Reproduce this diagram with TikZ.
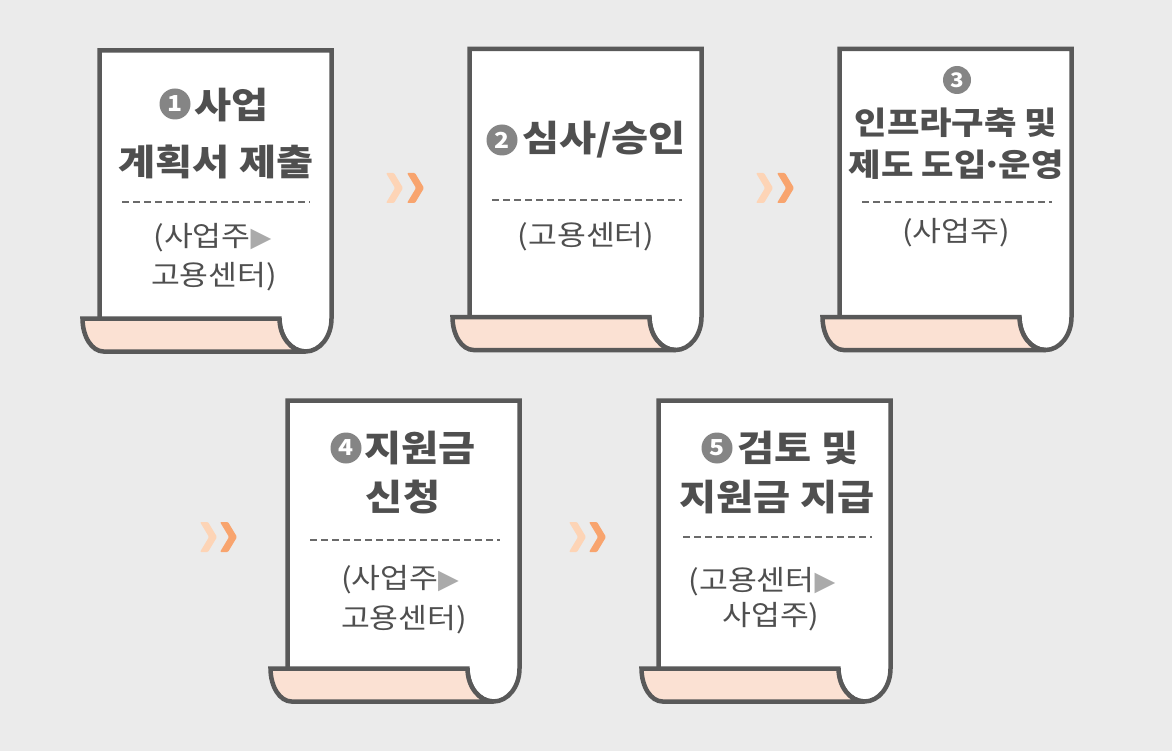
\documentclass[tikz,border=0pt]{standalone}
\usepackage{fontspec}
\setmainfont{Noto Sans CJK KR}[FakeStretch=1.12]
\newfontfamily\dejavu{DejaVu Sans}
\definecolor{bg}{HTML}{EBEBEB}
\definecolor{edge}{HTML}{595959}
\definecolor{flapc}{HTML}{FBE1D3}
\definecolor{txt}{HTML}{4F4F4F}
\definecolor{numgray}{HTML}{858585}
\definecolor{trigray}{HTML}{AAAAAA}
\definecolor{chevlight}{HTML}{FDD4B6}
\definecolor{chevdark}{HTML}{F8A46E}
\newcommand\scrollat[3]{%
  \begin{scope}[shift={(#2,#3)}]
    \coordinate (#1) at (116,150);
    \filldraw[pageedge,fill=white] (0,268) -- (0,0) -- (232,0) -- (232,268)
      arc[start angle=0,end angle=180,x radius=26,y radius=33];
    \filldraw[pageedge,fill=flapc] (180,268) -- (-17,268)
      arc[start angle=180,end angle=90,x radius=21,y radius=33] -- (206,301)
      arc[start angle=90,end angle=180,x radius=26,y radius=33] -- cycle;
  \end{scope}}
\newcommand\chevat[3]{%
  \fill[#1,rounded corners=1pt] (#2,#3) ++(0,-15) -- ++(8,0) -- ++(9,15) -- ++(-9,15) -- ++(-8,0) -- ++(9,-15) -- cycle;}
\newcommand\tri{{\dejavu\color{trigray}\fontsize{27}{27}\selectfont ▶}}
\begin{document}
\begin{tikzpicture}[x=1pt,y=-1pt,
  pageedge/.style={draw=edge,line width=4.5pt},
  title/.style={font=\fontsize{36}{36}\selectfont\bfseries,text=txt,inner sep=0pt},
  titlesm/.style={font=\fontsize{31.5}{31.5}\selectfont\bfseries,text=txt,inner sep=0pt},
  sub/.style={font=\fontsize{28}{28}\selectfont,text=txt,inner sep=0pt},
  numc/.style={circle,fill=numgray,text=white,inner sep=0pt,minimum size=31pt,
    font=\fontsize{22}{22}\selectfont\bfseries},
  sep/.style={draw=edge!90,line width=2pt,dash pattern=on 7pt off 4pt}]
\fill[bg] (0,0) rectangle (1172,751);
\useasboundingbox (0,0) rectangle (1172,751);
% scrolls
\scrollat{s1}{99.5}{50.5}
\scrollat{s2}{469.5}{49}
\scrollat{s3}{839.5}{49}
\scrollat{s4}{287.5}{400.5}
\scrollat{s5}{658.5}{400.5}
% chevrons
\chevat{chevlight}{386}{188}\chevat{chevdark}{407}{188}
\chevat{chevlight}{756}{188}\chevat{chevdark}{777}{188}
\chevat{chevlight}{200}{537}\chevat{chevdark}{220}{537}
\chevat{chevlight}{569}{537}\chevat{chevdark}{589}{537}
% box 1
\node[numc] (n1) at (175,104) {1};
\node[title] (t1a) at (231.5,105) {사업};
\node[title] (t1b) at (216,162) {계획서 제출};
\coordinate (d1a) at (122,202); \coordinate (d1b) at (310,202);
\draw[sep] (d1a) -- (d1b);
\node[sub] (s1a) at (212.5,238) {(사업주\tri};
\node[sub] (s1b) at (214,277) {고용센터)};
% box 2
\node[numc] (n2) at (502,140) {2};
\node[title] (t2) at (604,140) {심사/승인};
\coordinate (d2a) at (492,200); \coordinate (d2b) at (682,200);
\draw[sep] (d2a) -- (d2b);
\node[sub] (s2) at (586,237) {(고용센터)};
% box 3
\node[numc,minimum size=28pt,font=\fontsize{20}{20}\selectfont\bfseries] (n3) at (957,80) {3};
\node[titlesm] (t3a) at (956,123) {인프라구축 및};
\node[titlesm] (t3b) at (956,165) {제도 도입{\kern-0.15em}·{\kern-0.15em}운영};
\coordinate (d3a) at (862,202); \coordinate (d3b) at (1052,202);
\draw[sep] (d3a) -- (d3b);
\node[sub] (s3) at (956,233) {(사업주)};
% box 4
\node[numc] (n4) at (346,448) {4};
\node[title] (t4a) at (420,448) {지원금};
\node[title] (t4b) at (403,497) {신청};
\coordinate (d4a) at (310,540); \coordinate (d4b) at (500,540);
\draw[sep] (d4a) -- (d4b);
\node[sub] (s4a) at (400,580) {(사업주\tri};
\node[sub] (s4b) at (404,620) {고용센터)};
% box 5
\node[numc] (n5) at (717,448) {5};
\node[title] (t5a) at (798,448) {검토 및};
\node[title] (t5b) at (777,497) {지원금 지급};
\coordinate (d5a) at (683,537); \coordinate (d5b) at (872,537);
\draw[sep] (d5a) -- (d5b);
\node[sub] (s5a) at (762,582) {(고용센터\tri};
\node[sub] (s5b) at (771,617) {사업주)};
\end{tikzpicture}
\end{document}
